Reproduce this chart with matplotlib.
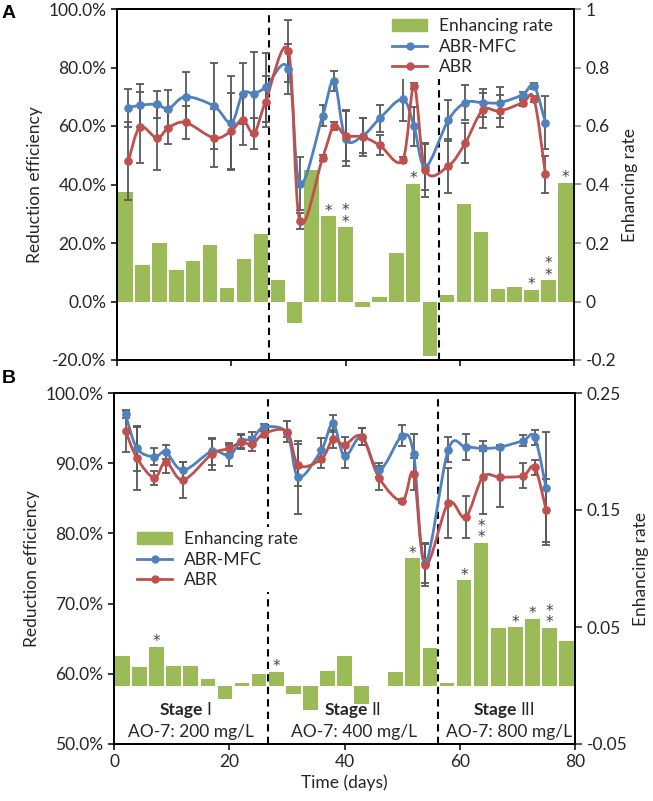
import numpy as np
import matplotlib.pyplot as plt
from matplotlib.path import Path
from matplotlib.patches import PathPatch, Patch
from matplotlib.lines import Line2D
from matplotlib.ticker import PercentFormatter, FuncFormatter

plt.rcParams['font.family'] = ['Lato', 'DejaVu Sans']
plt.rcParams['axes.unicode_minus'] = False

# ---- data ----
days = [2, 4, 7, 9, 12, 17, 20, 22, 24, 26, 30, 32, 36, 38, 40, 43, 46,
        50, 52, 54, 58, 61, 64, 67, 71, 73, 75]

# panel A
a_mfc = [66.2, 67.1, 67.4, 65.9, 70.0, 66.8, 61.1, 71.1, 71.1, 73.2, 79.5, 40.3, 63.5, 75.4,
         55.7, 56.6, 62.6, 69.1, 59.9, 46.0, 62.0, 68.0, 68.0, 68.0, 70.7, 73.7, 61.1]
a_mfc_err = [6.6, 7.4, 4.5, 6.3, 8.5, 14.8, 16, 10.3, 14.3, 11.8, 8.7, 9.1, 3.6, 3.4,
             9.4, 6, 4.5, 7.5, 6.6, 8, 7, 6, 4.8, 5.2, 1, 1, 9]
a_abr = [48.0, 59.6, 55.9, 59.4, 61.2, 55.9, 58.3, 62.2, 57.6, 68.3, 85.6, 27.5, 49.2, 60.0,
         56.7, 56.3, 53.4, 48.3, 73.6, 44.9, 46.3, 54.3, 65.4, 65.1, 67.9, 69.2, 43.5]
a_abr_err = [13.4, 12.1, 11, 5.6, 5.8, 9.9, 13, 8.8, 5.3, 8.8, 10.6, 2.8, 1, 1.4,
             8.7, 6.6, 3.4, 1, 1, 9.2, 9.2, 6.8, 6, 5.6, 1, 1, 6.4]
a_rate = [0.376, 0.126, 0.200, 0.108, 0.139, 0.194, 0.046, 0.146, 0.231, 0.072, -0.073,
          0.448, 0.291, 0.254, -0.019, 0.017, 0.166, 0.403, -0.187, 0.023, 0.332, 0.239,
          0.042, 0.049, 0.040, 0.072, 0.406]
a_stars = {12: 1, 13: 2, 17: 1, 24: 1, 25: 2, 26: 1}

# panel B
b_mfc = [96.96, 92.1, 90.9, 91.55, 89.0, 91.7, 91.1, 93.1, 93.5, 95.1, 94.3, 88.0, 91.9, 95.7,
         91.0, 93.8, 89.0, 93.9, 91.3, 75.8, 91.9, 92.3, 92.1, 92.3, 93.2, 93.7, 86.4]
b_mfc_err = [0.5, 3.2, 1.2, 1, 1.2, 1.9, 1.5, 1, 1, 0.5, 0.5, 5.2, 1.7, 1.2,
             1.7, 1.2, 1, 1.5, 2.9, 2.8, 1.8, 1.9, 0.3, 0.3, 0.8, 1.1, 8.1]
b_abr = [94.6, 90.7, 87.9, 90.2, 87.6, 91.3, 92.1, 93.0, 92.7, 94.2, 94.5, 89.7, 90.6, 93.4,
         92.6, 93.8, 87.9, 84.6, 88.5, 75.5, 84.3, 82.3, 88.0, 88.0, 88.2, 89.4, 83.3]
b_abr_err = [3, 4.5, 1.0, 1.6, 2.5, 2.2, 0.8, 1, 1, 0.5, 1.5, 3, 1.3, 1.3,
             1.2, 1.2, 1.7, 0.3, 2.3, 3, 5, 3, 5.2, 4.3, 1.8, 1.1, 4.5]
b_rate = [0.0255, 0.016, 0.033, 0.017, 0.0167, 0.0053, -0.0113, 0.0024, 0.0098, 0.0115,
          -0.007, -0.021, 0.0127, 0.025, -0.016, 0.0, 0.0115, 0.1087, 0.0323, 0.002,
          0.090, 0.122, 0.0489, 0.0497, 0.057, 0.049, 0.038]
b_stars = {2: 1, 9: 1, 17: 1, 20: 1, 21: 2, 23: 1, 24: 1, 25: 2}

stage_edges = [26.67, 56.3]
stage_names = ['I', 'II', 'III']
stage_conc = ['AO-7: 200 mg/L', 'AO-7: 400 mg/L', 'AO-7: 800 mg/L']

BLUE = '#4F81BD'
RED = '#C0504D'
GREEN = '#9BBB59'
GRAY = '#595959'
TXT = '#262626'

W, H = 653, 801
fig = plt.figure(figsize=(W / 100, H / 100), dpi=100)


def smooth_line(ax, x, y, color):
    # Excel style smoothed line (Catmull-Rom as cubic bezier)
    n = len(x)
    verts = [(x[0], y[0])]
    codes = [Path.MOVETO]
    for i in range(n - 1):
        i0 = max(i - 1, 0)
        i3 = min(i + 2, n - 1)
        c1 = (x[i] + (x[i + 1] - x[i0]) / 6, y[i] + (y[i + 1] - y[i0]) / 6)
        c2 = (x[i + 1] - (x[i3] - x[i]) / 6, y[i + 1] - (y[i3] - y[i]) / 6)
        verts += [c1, c2, (x[i + 1], y[i + 1])]
        codes += [Path.CURVE4] * 3
    ax.add_patch(PathPatch(Path(verts, codes), fill=False, edgecolor=color,
                           lw=2.0, zorder=4, capstyle='round', joinstyle='round'))


def panel(rect, mfc, mfc_err, abr, abr_err, rate, stars, ylim, yticks, rlim, rticks, rspine):
    ax = fig.add_axes(rect)
    axr = ax.twinx()
    ax.set_zorder(axr.get_zorder() + 1)
    ax.patch.set_visible(False)

    n = len(rate)
    xb = (np.arange(n) + 0.5) * 80 / n
    axr.bar(xb, rate, width=0.86 * 80 / n, color=GREEN, zorder=1)
    for i, k in stars.items():
        top = max(rate[i], 0)
        axr.annotate('\n'.join(['*'] * k), (xb[i], top), xytext=(0, 0.5),
                     textcoords='offset points', ha='center', va='baseline',
                     fontsize=11, color='#404040', family='DejaVu Sans', linespacing=0.7)

    for vals, err, c in [(mfc, mfc_err, BLUE), (abr, abr_err, RED)]:
        ax.errorbar(days, vals, yerr=err, fmt='none', ecolor=GRAY, elinewidth=1.3,
                    capsize=2.8, capthick=1.3, zorder=3)
        smooth_line(ax, days, vals, c)
        ax.plot(days, vals, 'o', color=c, ms=5.2, zorder=5)

    for xe in stage_edges:
        ax.axvline(xe, color='black', ls=(0, (3.5, 2.5)), lw=1.5, zorder=2)

    ax.set_xlim(0, 80)
    ax.set_ylim(*ylim)
    ax.set_yticks(yticks)
    ax.yaxis.set_major_formatter(PercentFormatter(100, decimals=1))
    axr.set_ylim(*rlim)
    axr.set_yticks(rticks)
    axr.yaxis.set_major_formatter(FuncFormatter(lambda v, p: '%g' % round(v, 3)))
    ax.set_xticks([0, 20, 40, 60, 80])

    ax.set_ylabel('Reduction efficiency', fontsize=12.5, color=TXT, labelpad=4)
    axr.set_ylabel('Enhancing rate', fontsize=12.5, color=TXT, labelpad=4)

    for a in (ax, axr):
        a.tick_params(labelsize=12.5, labelcolor=TXT, length=4, width=1.1, direction='out')
        for s in a.spines.values():
            s.set_linewidth(1.3)
            s.set_color('black')
    axr.spines['right'].set_color(rspine)
    axr.tick_params(axis='y', colors=rspine, labelcolor=TXT, length=5)
    return ax, axr


def fig_rect(l, t, r, b):
    return [l / W, 1 - b / H, (r - l) / W, (b - t) / H]


axA, axAr = panel(fig_rect(117, 9, 574, 360), a_mfc, a_mfc_err, a_abr, a_abr_err, a_rate,
                  a_stars, (-20, 100), np.arange(-20, 101, 20), (-0.2, 1.0),
                  np.arange(-0.2, 1.01, 0.2), '#7f7f7f')
axA.tick_params(axis='x', labelbottom=False)

axB, axBr = panel(fig_rect(114, 393, 575, 744), b_mfc, b_mfc_err, b_abr, b_abr_err, b_rate,
                  b_stars, (50, 100), np.arange(50, 101, 10), (-0.05, 0.25),
                  [-0.05, 0.05, 0.15, 0.25], '#262626')
axB.set_xlabel('Time (days)', fontsize=12.5, color=TXT, labelpad=3)

handles = [Patch(color=GREEN),
           Line2D([], [], color=BLUE, lw=2, marker='o', ms=5),
           Line2D([], [], color=RED, lw=2, marker='o', ms=5)]
labels = ['Enhancing rate', 'ABR-MFC', 'ABR']
for ax, (lx, ly) in [(axA, (388, 14)), (axB, (133, 527))]:
    leg = ax.legend(handles, labels, loc='upper left', bbox_to_anchor=(lx / W, 1 - ly / H),
                    bbox_transform=fig.transFigure, fontsize=12.5, frameon=True,
                    facecolor='white', edgecolor='none', framealpha=1, borderpad=0.25,
                    labelspacing=0.25, handlelength=2.0, handletextpad=0.7, borderaxespad=0)
    for t in leg.get_texts():
        t.set_color(TXT)
    leg.set_zorder(10)

# stage labels in panel B
stage_x = [15.5, 44.1, 69.9]
conc_x = [13.3, 41.6, 68.5]
for sx, name, cx, conc in zip(stage_x, stage_names, conc_x, stage_conc):
    axB.text(sx, 54.8, 'Stage', ha='right', va='center', fontsize=12.5, fontweight='bold',
             color=TXT, zorder=6)
    axB.text(sx + 0.6, 54.8, name, ha='left', va='center', fontsize=12.5, color=TXT, zorder=6)
    axB.text(cx, 51.7, conc, ha='center', va='center', fontsize=12.5, color=TXT, zorder=6)

fig.text(2 / W, 1 - 14 / H, 'A', fontsize=14, fontweight='bold', family='Liberation Sans',
         va='center', ha='left')
fig.text(2 / W, 1 - 378 / H, 'B', fontsize=14, fontweight='bold', family='Liberation Sans',
         va='center', ha='left')

fig.savefig('out.png', dpi=100)
